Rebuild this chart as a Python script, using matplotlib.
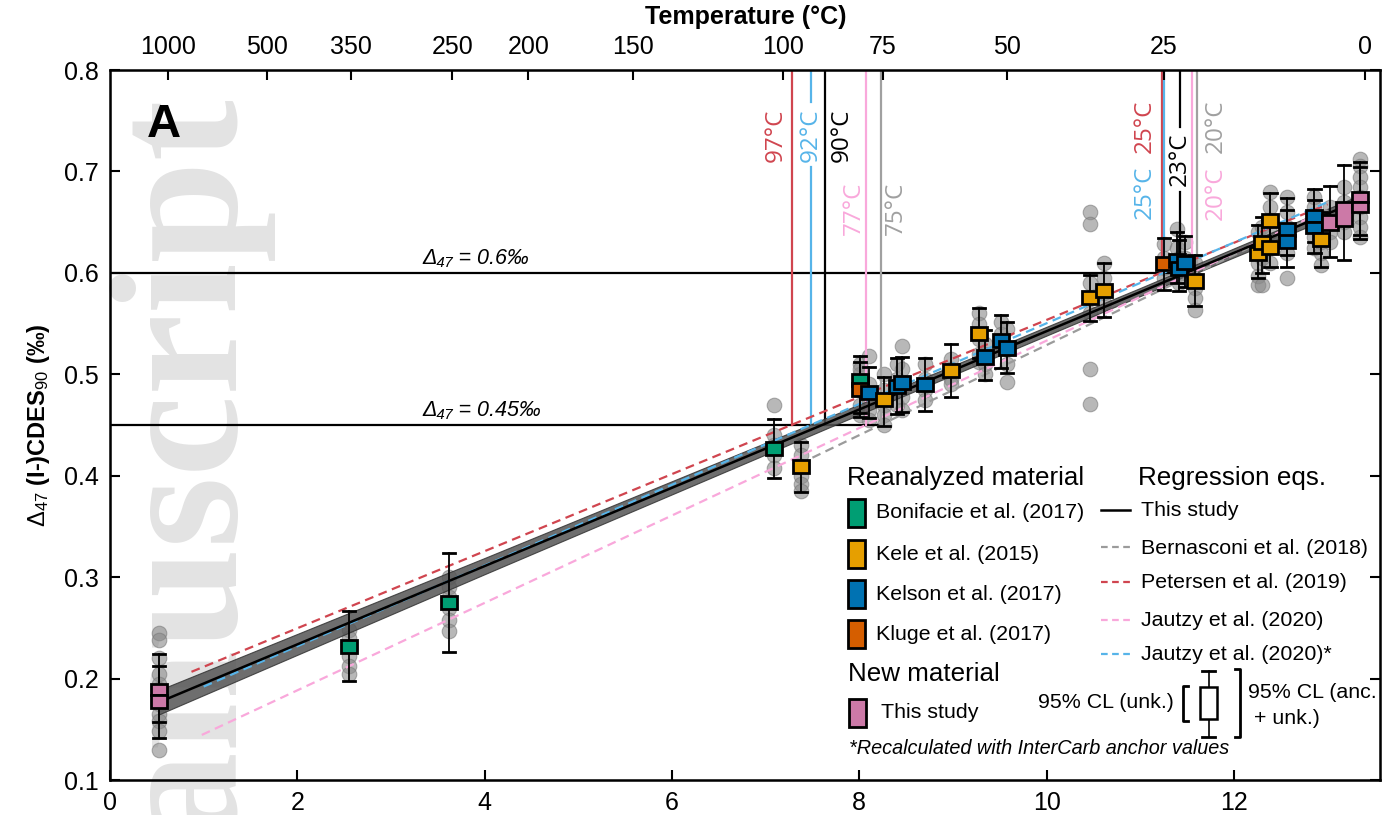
import numpy as np
import matplotlib
matplotlib.use("Agg")
import matplotlib.pyplot as plt
from matplotlib.patches import Rectangle
from matplotlib.lines import Line2D

plt.rcParams['font.family'] = ['Liberation Sans', 'DejaVu Sans']
plt.rcParams['mathtext.fontset'] = 'custom'
plt.rcParams['mathtext.rm'] = 'Liberation Sans'
plt.rcParams['mathtext.it'] = 'Liberation Sans:italic'
plt.rcParams['mathtext.bf'] = 'Liberation Sans:bold'

# ---- samples: 10^6/T^2, mean D47, half height of 95% CL (unk.) box, whisker ends, source
samp_x = [0.52, 0.52, 2.55, 3.62, 7.09, 7.38, 8.01, 8.01, 8.10, 8.26, 8.40, 8.46, 8.70,
          8.98, 9.28, 9.34, 9.51, 9.58, 10.46, 10.61, 11.25, 11.39, 11.41, 11.48, 11.58,
          12.26, 12.30, 12.39, 12.39, 12.57, 12.57, 12.86, 12.86, 12.93, 13.03, 13.18,
          13.35, 13.35]
samp_y = [0.1895, 0.1775, 0.232, 0.275, 0.427, 0.409, 0.494, 0.485, 0.482, 0.475, 0.488,
          0.492, 0.490, 0.504, 0.540, 0.517, 0.533, 0.526, 0.576, 0.583, 0.609, 0.612,
          0.604, 0.610, 0.592, 0.619, 0.630, 0.625, 0.652, 0.643, 0.631, 0.656, 0.645,
          0.633, 0.650, 0.658, 0.675, 0.665]
samp_box = [0.0055, 0.0065, 0.0065, 0.0065, 0.0065, 0.0065, 0.006, 0.0065, 0.0065, 0.0065,
            0.0065, 0.0065, 0.0065, 0.0065, 0.0065, 0.0065, 0.0065, 0.0065, 0.0065, 0.0065,
            0.0065, 0.0065, 0.0065, 0.0065, 0.0065, 0.0065, 0.0065, 0.0065, 0.0065, 0.0065,
            0.0065, 0.0055, 0.0055, 0.0065, 0.0075, 0.012, 0.005, 0.005]
samp_lo = [0.157, 0.141, 0.198, 0.226, 0.398, 0.384, 0.462, 0.458, 0.457, 0.449, 0.461,
           0.463, 0.464, 0.478, 0.516, 0.494, 0.506, 0.501, 0.553, 0.556, 0.583, 0.590,
           0.582, 0.586, 0.567, 0.595, 0.600, 0.606, 0.627, 0.618, 0.606, 0.630, 0.620,
           0.606, 0.616, 0.613, 0.637, 0.633]
samp_hi = [0.224, 0.212, 0.267, 0.324, 0.456, 0.433, 0.518, 0.512, 0.507, 0.497, 0.516,
           0.517, 0.516, 0.530, 0.565, 0.544, 0.558, 0.552, 0.598, 0.610, 0.634, 0.640,
           0.632, 0.636, 0.618, 0.647, 0.655, 0.652, 0.679, 0.674, 0.662, 0.683, 0.672,
           0.660, 0.686, 0.706, 0.709, 0.704]
samp_src = [4, 4, 0, 0, 0, 1, 0, 3, 2, 1, 2, 2, 2, 1, 1, 2, 2, 2, 1, 1, 3, 2, 2, 2, 1,
            1, 1, 1, 1, 2, 2, 2, 2, 1, 4, 4, 4, 4]
reps = [[0.245, 0.238, 0.22, 0.205, 0.195, 0.19], [0.175, 0.165, 0.158, 0.148, 0.13],
        [0.248, 0.24, 0.232, 0.222, 0.212, 0.205], [0.30, 0.29, 0.28, 0.27, 0.258, 0.247],
        [0.47, 0.44, 0.43, 0.42, 0.408], [0.43, 0.42, 0.41, 0.40, 0.392, 0.385],
        [0.51, 0.50, 0.49], [0.505, 0.485, 0.47, 0.46], [0.518, 0.49, 0.475, 0.465, 0.455],
        [0.50, 0.485, 0.47, 0.46, 0.45], [0.51, 0.495, 0.485, 0.47],
        [0.528, 0.505, 0.49, 0.478, 0.465], [0.51, 0.495, 0.485, 0.475],
        [0.515, 0.505, 0.495, 0.49], [0.56, 0.55, 0.535, 0.52, 0.512],
        [0.53, 0.52, 0.51, 0.50], [0.552, 0.54, 0.53], [0.545, 0.525, 0.51, 0.492],
        [0.66, 0.648, 0.59, 0.575, 0.56, 0.505, 0.471], [0.61, 0.595, 0.58, 0.57],
        [0.628, 0.615, 0.605, 0.595], [0.643, 0.625, 0.61], [0.615, 0.60, 0.59],
        [0.63, 0.615, 0.60], [0.61, 0.595, 0.585, 0.575, 0.563],
        [0.64, 0.625, 0.61, 0.597, 0.588], [0.645, 0.63, 0.615, 0.588],
        [0.64, 0.625, 0.61], [0.68, 0.665, 0.652], [0.675, 0.66, 0.645],
        [0.635, 0.62, 0.595], [0.675, 0.665, 0.655], [0.645, 0.635, 0.625],
        [0.64, 0.63, 0.62, 0.608], [0.665, 0.65, 0.64, 0.63],
        [0.685, 0.67, 0.66, 0.65, 0.64], [0.712, 0.705, 0.695, 0.685, 0.675],
        [0.665, 0.655, 0.645, 0.635]]

src_names = ["Bonifacie et al. (2017)", "Kele et al. (2015)", "Kelson et al. (2017)",
             "Kluge et al. (2017)", "This study"]
src_colors = ["#009E73", "#E69F00", "#0072B2", "#D55E00", "#CC79A7"]

# ---- regression equations (slope, intercept, range in 10^6/T^2)
reg_names = ["This study", "Bernasconi et al. (2018)", "Petersen et al. (2019)",
             "Jautzy et al. (2020)", "Jautzy et al. (2020)*"]
reg_slope = [0.0386, 0.0444, 0.0380, 0.0431, 0.0398]
reg_icpt = [0.1565, 0.0848, 0.1736, 0.1022, 0.1523]
reg_x0 = [0.52, 7.5, 0.87, 0.98, 1.0]
reg_x1 = [13.4, 13.0, 13.0, 13.0, 13.0]
reg_colors = ["black", "#9b9b9b", "#D0454F", "#F9A8DB", "#56B4E9"]

band_x = [0.52, 4.0, 8.0, 11.0, 13.4]
band_hw = [0.012, 0.008, 0.005, 0.004, 0.005]

top_temps = [1000, 500, 350, 250, 200, 150, 100, 75, 50, 25, 0]

# ---- temperatures where each regression reaches 0.45 / 0.6 permil
cross_level = [0.45, 0.45, 0.45, 0.45, 0.45, 0.6, 0.6, 0.6, 0.6, 0.6]
cross_x = [7.28, 7.48, 7.63, 8.07, 8.23, 11.23, 11.25, 11.42, 11.55, 11.61]
cross_lab = ["97°C", "92°C", "90°C", "77°C", "75°C", "25°C", "25°C", "23°C", "20°C", "20°C"]
cross_reg = [2, 4, 0, 3, 1, 2, 4, 0, 3, 1]
cross_dx = [-0.17, 0.0, 0.18, -0.13, 0.16, -0.18, -0.20, 0.0, 0.26, 0.20]
cross_ty = [0.736, 0.736, 0.736, 0.664, 0.664, 0.745, 0.679, 0.712, 0.679, 0.745]
line_cols = ["black", "#A0A0A0", "#D0454F", "#F9A8DB", "#56B4E9"]

W, H = 1387, 815
fig = plt.figure(figsize=(W / 100, H / 100), dpi=100)
ax = fig.add_axes([110 / W, 1 - 780 / H, 1270 / W, 710 / H])
ax.patch.set_visible(False)


def fp(px, py):
    return (px / W, 1 - py / H)


# watermark
fig.text(*fp(234, 95), "Manuscript", rotation=90, rotation_mode='anchor', ha='right',
         va='baseline', fontsize=132, family='Liberation Serif', fontweight='bold',
         color='#e3e3e3', zorder=-1)

# replicate analyses
for i, r in enumerate(reps):
    ax.plot([samp_x[i]] * len(r), r, 'o', ms=10.5, color='#8a8a8a', alpha=0.6, mec='#7a7a7a',
            mew=0.8, zorder=1.5)

# regressions
bx = np.array(band_x)
by = reg_slope[0] * bx + reg_icpt[0]
ax.fill_between(bx, by - np.array(band_hw), by + np.array(band_hw), facecolor='#555555',
                edgecolor='#333333', lw=0.8, alpha=0.85, zorder=3)
for k in range(len(reg_names)):
    xx = np.array([reg_x0[k], reg_x1[k]])
    yy = reg_slope[k] * xx + reg_icpt[k]
    if k == 0:
        ax.plot(xx, yy, color='black', lw=1.8, zorder=3.6)
    else:
        ax.plot(xx, yy, color=reg_colors[k], lw=1.6, dashes=(4, 2.5), zorder=3.3)

# reference levels and crossing temperatures
for lev in [0.45, 0.6]:
    xe = max(cx for cx, cl in zip(cross_x, cross_level) if cl == lev)
    ax.plot([0, xe], [lev, lev], color='black', lw=1.6, zorder=2.5)
for i in range(len(cross_x)):
    c = line_cols[cross_reg[i]]
    if cross_dx[i] == 0:
        g = 0.032
        ax.plot([cross_x[i]] * 2, [cross_level[i], cross_ty[i] - g], color=c, lw=1.6, zorder=2.5)
        ax.plot([cross_x[i]] * 2, [cross_ty[i] + g, 0.8], color=c, lw=1.6, zorder=2.5)
    else:
        ax.plot([cross_x[i]] * 2, [cross_level[i], 0.8], color=c, lw=1.6, zorder=2.5)
    ax.text(cross_x[i] + cross_dx[i], cross_ty[i], cross_lab[i], rotation=90, ha='center',
            va='center', fontsize=17.5, color=c, family='Open Sans')

ax.text(3.34, 0.604, "Δ₄₇ = 0.6‰", style='italic', fontsize=15.5, ha='left', va='bottom')
ax.text(3.34, 0.454, "Δ₄₇ = 0.45‰", style='italic', fontsize=15.5, ha='left', va='bottom')
ax.text(0.58, 0.746, "A", fontsize=34, fontweight='bold', ha='center', va='center')

# boxes with whiskers
bw = 0.17
for i in range(len(samp_x)):
    x = samp_x[i]
    ax.plot([x, x], [samp_lo[i], samp_hi[i]], color='black', lw=1.3, zorder=4)
    ax.plot([x - 0.065, x + 0.065], [samp_lo[i]] * 2, color='black', lw=2, zorder=4)
    ax.plot([x - 0.065, x + 0.065], [samp_hi[i]] * 2, color='black', lw=2, zorder=4)
    ax.add_patch(Rectangle((x - bw / 2, samp_y[i] - samp_box[i]), bw, 2 * samp_box[i],
                           facecolor=src_colors[samp_src[i]], edgecolor='black', lw=2,
                           zorder=5))

ax.set_xlim(0, 13.56)
ax.set_ylim(0.1, 0.8)
ax.set_xticks([0, 2, 4, 6, 8, 10, 12])
ax.set_yticks([0.1, 0.2, 0.3, 0.4, 0.5, 0.6, 0.7, 0.8])
ax.tick_params(direction='in', length=7, width=1.5, labelsize=18, pad=8, right=True)
for s in ax.spines.values():
    s.set_linewidth(1.8)
ax.set_ylabel(r"$\Delta_{47}$ (I-)CDES$_{90}$ (‰)", fontsize=17, fontweight='bold')
ax.yaxis.set_label_coords(-0.046, 0.5)

ax2 = ax.twiny()
ax2.set_xlim(ax.get_xlim())
ax2.set_xticks([1e6 / (t + 273.15) ** 2 for t in top_temps])
ax2.set_xticklabels([str(t) for t in top_temps])
ax2.tick_params(direction='in', length=7, width=1.5, labelsize=18, pad=8)
fig.text(*fp(746, 17), "Temperature (°C)", fontsize=18, fontweight='bold', ha='center',
         va='center')

# ---- legend (drawn in figure pixels)
fig.text(*fp(847, 478), "Reanalyzed material", fontsize=18.7, va='center', zorder=10)
leg_y = [513, 554, 594, 634]
for k in range(4):
    fig.add_artist(Rectangle(fp(848, leg_y[k] + 14), 17 / W, 28 / H, transform=fig.transFigure,
                             facecolor=src_colors[k], edgecolor='black', lw=2, zorder=10))
    fig.text(*fp(876, leg_y[k]), src_names[k], fontsize=15.4, va='center', zorder=10)
fig.text(*fp(848, 674), "New material", fontsize=18.7, va='center', zorder=10)
fig.add_artist(Rectangle(fp(849, 727), 17 / W, 28 / H, transform=fig.transFigure,
                         facecolor=src_colors[4], edgecolor='black', lw=2, zorder=10))
fig.text(*fp(881, 713), src_names[4], fontsize=15.4, va='center', zorder=10)
fig.text(*fp(849, 748), "*Recalculated with InterCarb anchor values", fontsize=14.3,
         style='italic', va='center', zorder=10)

fig.text(*fp(1138, 478), "Regression eqs.", fontsize=18.7, va='center', zorder=10)
reg_leg_y = [510, 547, 582, 620, 654]
for k in range(5):
    p0, p1 = fp(1101, reg_leg_y[k]), fp(1130, reg_leg_y[k])
    ln = Line2D([p0[0], p1[0]], [p0[1], p1[1]], transform=fig.transFigure,
                color=reg_colors[k], lw=1.8 if k == 0 else 1.6, zorder=10)
    if k > 0:
        ln.set_dashes((3, 2))
    fig.add_artist(ln)
    fig.text(*fp(1141, reg_leg_y[k] + 1), reg_names[k], fontsize=15.4, va='center', zorder=10)


def fline(xs, ys, lw=1.6):
    pts = [fp(a, b) for a, b in zip(xs, ys)]
    fig.add_artist(Line2D([p[0] for p in pts], [p[1] for p in pts], transform=fig.transFigure,
                          color='black', lw=lw, zorder=10))


fline([1188, 1183, 1183, 1188], [686, 686, 721, 721], lw=2)
fline([1235, 1240, 1240, 1235], [669, 669, 737, 737], lw=2)
fline([1208.5, 1208.5], [671, 737], lw=1.2)
fline([1202, 1215], [671, 671], lw=2)
fline([1202, 1215], [737, 737], lw=2)
fig.add_artist(Rectangle(fp(1200, 719), 17 / W, 32 / H, transform=fig.transFigure,
                         facecolor='white', edgecolor='black', lw=1.8, zorder=11))
fig.text(*fp(1174, 703), "95% CL (unk.)", fontsize=15.4, ha='right', va='center', zorder=10)
fig.text(*fp(1248, 693), "95% CL (anc.", fontsize=15.4, va='center', zorder=10)
fig.text(*fp(1254, 718), "+ unk.)", fontsize=15.4, va='center', zorder=10)

fig.savefig("out.png", dpi=100)
